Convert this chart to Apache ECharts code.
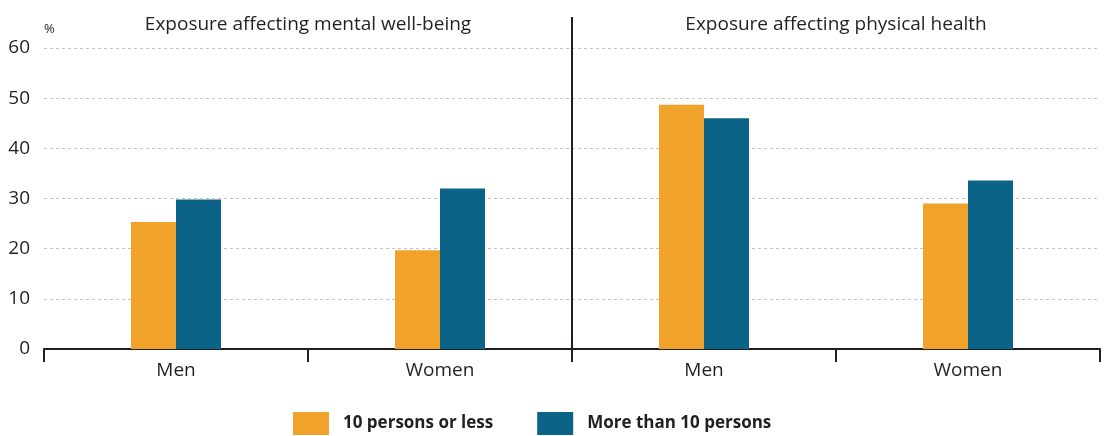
<!DOCTYPE html>
<html>
<head>
<meta charset="utf-8">
<script src="https://cdn.jsdelivr.net/npm/echarts@6/dist/echarts.min.js"></script>
<style>
  html, body { margin: 0; padding: 0; background: #fff; }
  #chart { width: 1115px; height: 436px; }
</style>
</head>
<body>
<div id="chart"></div>
<script>
// 数据：两个面板各两个类别
const categories = ["Men", "Women", "Men", "Women"];
const panelTitles = ["Exposure affecting mental well-being", "Exposure affecting physical health"];
const smallFirms = [25.3, 19.7, 48.7, 29.0];
const largeFirms = [29.8, 32.0, 46.0, 33.6];
const seriesNames = ["10 persons or less", "More than 10 persons"];

const FONT = "Open Sans";
const TEXT = "#231f20";

const chart = echarts.init(document.getElementById("chart"));
chart.setOption({
    animation: false,
    textStyle: { fontFamily: FONT, color: TEXT },
    title: [
        { text: panelTitles[0], left: 308, top: 15, padding: 0, textAlign: "center",
          textStyle: { fontFamily: FONT, fontSize: 19, fontWeight: "normal", color: TEXT } },
        { text: panelTitles[1], left: 836, top: 15, padding: 0, textAlign: "center",
          textStyle: { fontFamily: FONT, fontSize: 19, fontWeight: "normal", color: TEXT } }
    ],
    grid: { left: 44, right: 15, top: 48, bottom: 87, containLabel: false },
    legend: {
        left: 293, top: 412, padding: 0, itemWidth: 36, itemHeight: 23, itemGap: 44,
        icon: "rect",
        textStyle: { fontFamily: FONT, fontSize: 17, fontWeight: "bold", color: TEXT, padding: [0, 0, 0, 9] },
        data: seriesNames
    },
    xAxis: {
        type: "category",
        data: categories,
        axisLine: { lineStyle: { color: TEXT, width: 2 } },
        axisTick: { show: true, interval: 0, length: 13, lineStyle: { color: TEXT, width: 2 } },
        axisLabel: { interval: 0, fontSize: 19, color: TEXT, margin: 12, fontFamily: FONT }
    },
    yAxis: {
        type: "value", min: 0, max: 60, interval: 10,
        name: "%", nameLocation: "end", nameGap: 12,
        nameTextStyle: { fontSize: 13, color: TEXT, align: "left", fontFamily: FONT },
        axisLine: { show: false }, axisTick: { show: false },
        axisLabel: { fontSize: 19, color: TEXT, margin: 14, fontFamily: FONT },
        splitLine: { lineStyle: { color: "#c4c4c4", type: [3, 3], width: 1 } }
    },
    series: [
        { name: seriesNames[0], type: "bar", data: smallFirms, barWidth: 45, barGap: 0,
          itemStyle: { color: "#f0a22a" } },
        { name: seriesNames[1], type: "bar", data: largeFirms, barWidth: 45, barGap: 0,
          itemStyle: { color: "#0b6487" } }
    ],
    graphic: [
        { type: "line", z: 10, shape: { x1: 572, y1: 17, x2: 572, y2: 362 },
          style: { stroke: TEXT, lineWidth: 2 } }
    ]
});
</script>
</body>
</html>
